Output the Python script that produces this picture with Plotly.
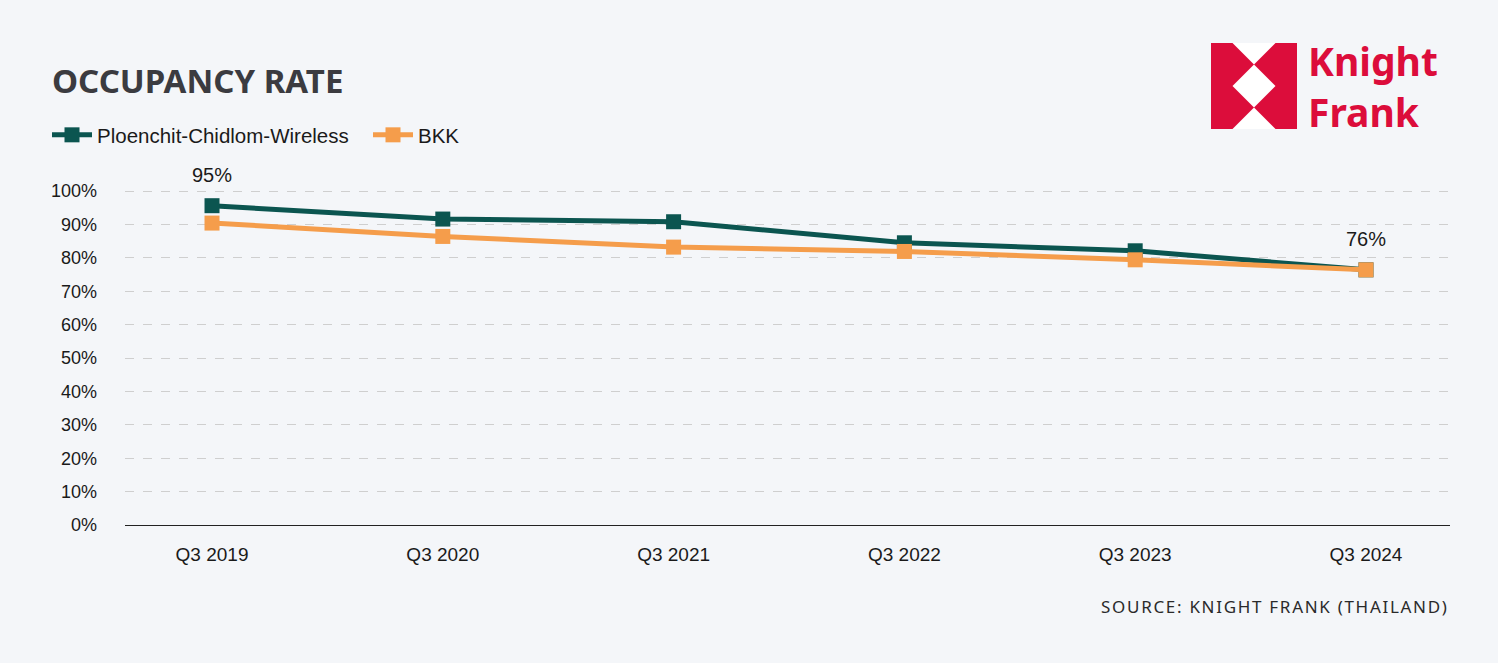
import plotly.graph_objects as go

categories = ["Q3 2019", "Q3 2020", "Q3 2021", "Q3 2022", "Q3 2023", "Q3 2024"]
ploenchit = [95.6, 91.6, 90.8, 84.5, 82.1, 76.4]
bkk = [90.4, 86.4, 83.2, 81.9, 79.4, 76.4]
ploenchit_labels = ["95%", "", "", "", "", "76%"]
y_ticks = list(range(0, 101, 10))
y_ticktext = [f"{v}%" for v in y_ticks]

W, H = 1498, 663
L, R, T, B = 125, 1450, 187, 525
GREEN = "#0b5550"
ORANGE = "#f59d4b"
RED = "#dc0d3b"
BG = "#f4f6f9"


def px(x):
    return (x - L) / (R - L)


def py(y):
    return (B - y) / (B - T)


fig = go.Figure()
fig.add_trace(go.Scatter(
    x=categories, y=ploenchit, name="Ploenchit-Chidlom-Wireless",
    mode="lines+markers", line=dict(color=GREEN, width=5),
    marker=dict(symbol="square", size=15, color=GREEN), cliponaxis=False))
fig.add_trace(go.Scatter(
    x=categories, y=bkk, name="BKK",
    mode="lines+markers", line=dict(color=ORANGE, width=5),
    marker=dict(symbol="square", size=15, color=ORANGE), cliponaxis=False))

annotations = []
for cat, val, lab in zip(categories, ploenchit, ploenchit_labels):
    if lab:
        annotations.append(dict(x=cat, y=val, xref="x", yref="y", text=lab,
                                showarrow=False, yshift=31,
                                font=dict(family="Liberation Sans, Arial", size=20, color="#1a1a1a")))

annotations.append(dict(x=px(50), y=py(80), xref="paper", yref="paper", text="<b>OCCUPANCY RATE</b>",
                        showarrow=False, xanchor="left", yanchor="middle",
                        font=dict(family="Noto Sans, Open Sans", size=33, color="#3b3b40")))
hs = "\u200a"
source = hs.join(list("SOURCE: KNIGHT FRANK (THAILAND)"))
annotations.append(dict(x=px(1449), y=py(606), xref="paper", yref="paper",
                        text=source,
                        showarrow=False, xanchor="right", yanchor="middle",
                        font=dict(family="Noto Sans, Open Sans", size=17, color="#2a2a2a")))
# logo text
annotations.append(dict(x=px(1306), y=py(86), xref="paper", yref="paper", text="<b>Knight<br>Frank</b>",
                        showarrow=False, xanchor="left", yanchor="middle", align="left",
                        font=dict(family="Noto Sans, Open Sans", size=39, color=RED)))

# logo emblem
x0, x1, y0, y1 = 1211, 1297, 43, 129
cx, cy = (x0 + x1) / 2, (y0 + y1) / 2
hw = (x1 - x0) / 2


def path(points):
    return "M " + " L ".join(f"{px(a)},{py(b)}" for a, b in points) + " Z"


shapes = [
    dict(type="rect", xref="paper", yref="paper", x0=px(x0), x1=px(x1), y0=py(y1), y1=py(y0),
         fillcolor=RED, line=dict(width=0), layer="above"),
    dict(type="path", xref="paper", yref="paper",
         path=path([(cx, cy - hw * 0.5), (cx + hw * 0.5, cy), (cx, cy + hw * 0.5), (cx - hw * 0.5, cy)]),
         fillcolor="white", line=dict(width=0), layer="above"),
    dict(type="path", xref="paper", yref="paper",
         path=path([(cx - hw * 0.5, y0), (cx + hw * 0.5, y0), (cx, cy - hw * 0.5)]),
         fillcolor="white", line=dict(width=0), layer="above"),
    dict(type="path", xref="paper", yref="paper",
         path=path([(cx - hw * 0.5, y1), (cx + hw * 0.5, y1), (cx, cy + hw * 0.5)]),
         fillcolor="white", line=dict(width=0), layer="above"),
]

fig.update_layout(
    width=W, height=H,
    margin=dict(l=L, r=W - R, t=T, b=H - B),
    paper_bgcolor=BG, plot_bgcolor=BG,
    font=dict(family="Liberation Sans, Arial", size=17, color="#1a1a1a"),
    showlegend=True,
    legend=dict(orientation="h", x=px(47), y=py(135), xanchor="left", yanchor="middle",
                font=dict(family="Liberation Sans, Arial", size=20.5, color="#1a1a1a"),
                bgcolor="rgba(0,0,0,0)", itemwidth=40, entrywidth=266),
    xaxis=dict(type="category", range=[-0.377, 5.364], showgrid=False, showline=True,
               linecolor="#222", linewidth=1, ticks="", ticklabelstandoff=12,
               tickfont=dict(size=19)),
    yaxis=dict(range=[0, 101.2], tickvals=y_ticks, ticktext=y_ticktext, showgrid=True,
               gridcolor="#cfcfcf", griddash="dash", gridwidth=1, zeroline=False,
               showline=False, ticks="", ticklabelstandoff=27, tickfont=dict(size=18)),
    annotations=annotations,
    shapes=shapes,
)

fig.write_html(
    "out.html",
    config={"displayModeBar": False},
    post_script="document.body.style.margin='0';document.body.style.background='%s';"
                "document.documentElement.style.overflow='hidden';" % BG,
)
